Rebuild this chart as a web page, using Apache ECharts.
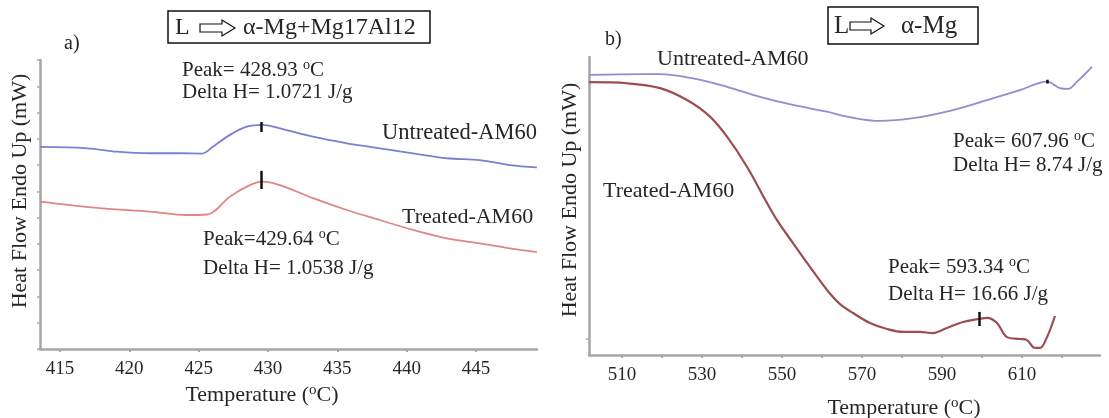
<!DOCTYPE html>
<html><head><meta charset="utf-8">
<script src="https://cdn.jsdelivr.net/npm/echarts@6/dist/echarts.min.js"></script>
<style>html,body{margin:0;padding:0;background:#fff}#c{width:1109px;height:418px}</style>
</head><body><div id="c"></div>
<script>
// ---- Panel a) : 413.5 - 449.4 °C ----
const aTicks = [415, 420, 425, 430, 435, 440, 445];
const aUntreatedT = [413.56, 416.95, 419.11, 421.49, 423.65, 425.24, 426.03, 427.26, 428.48, 429.56, 430.86, 433.24, 435.69, 438.07, 440.45, 442.90, 445.28, 447.44, 449.39];
const aUntreatedV = [7.69, 7.64, 7.51, 7.45, 7.45, 7.44, 7.70, 8.15, 8.46, 8.53, 8.40, 8.08, 7.83, 7.64, 7.45, 7.26, 7.19, 7.00, 6.91];
const aTreatedT = [413.56, 417.88, 421.49, 424.16, 425.60, 427.26, 428.48, 429.56, 430.86, 433.24, 435.69, 438.07, 440.45, 442.90, 445.28, 447.44, 449.39];
const aTreatedV = [5.61, 5.36, 5.23, 5.10, 5.12, 5.80, 6.18, 6.37, 6.24, 5.74, 5.29, 4.91, 4.53, 4.21, 4.02, 3.83, 3.69];
const aPeakT = 429.5;
const aUntreatedMark = [8.26, 8.64];
const aTreatedMark = [6.09, 6.78];

// ---- Panel b) : 501.75 - 629.5 °C ----
const bLabels = [510, 530, 550, 570, 590, 610];
const bTicks = [510, 520, 530, 540, 550, 560, 570, 580, 590, 600, 610, 620];
const bUntreatedT = [501.75, 515.25, 519.5, 527.75, 536.25, 544.5, 552.75, 561.25, 566.25, 574.5, 582.75, 592.75, 601.25, 609.5, 616.25, 619.5, 621.5, 623.75, 627.5];
const bUntreatedV = [10.34, 10.37, 10.37, 10.21, 9.90, 9.53, 9.23, 8.98, 8.80, 8.64, 8.74, 9.04, 9.41, 9.78, 10.09, 9.85, 9.82, 10.09, 10.64];
const bTreatedT = [501.75, 511.25, 519.5, 526.25, 532, 536.25, 541.25, 546.25, 548.75, 552.75, 557, 561.25, 564.5, 567.75, 572, 576.25, 580.25, 584.5, 587.75, 591.25, 595.25, 599.25, 601.25, 603.75, 606.25, 609.5, 611.25, 613.25, 614.5, 616.25, 618.25];
const bTreatedV = [10.07, 10.03, 9.85, 9.41, 8.80, 8.06, 6.95, 5.61, 4.98, 4.13, 3.25, 2.40, 1.88, 1.55, 1.18, 0.96, 0.85, 0.85, 0.81, 1.00, 1.22, 1.33, 1.37, 1.18, 0.66, 0.59, 0.55, 0.26, 0.26, 0.66, 1.44];
const bUntreatedMarkT = 616.25, bUntreatedMark = [10.02, 10.16];
const bTreatedMarkT = 599.25, bTreatedMark = [1.07, 1.59];

const FONT = "'Liberation Serif','Times New Roman',serif";
const TXT = '#262626';
const AXIS = '#a6a6a6';
const zip = (xs, ys) => xs.map((x, i) => [x, ys[i]]);

function tick(t, v) {
  return { symbol: 'none', silent: true, label: { show: false },
    lineStyle: { color: '#111', width: 2.5, type: 'solid' },
    data: [[{ coord: [t, v[0]] }, { coord: [t, v[1]] }]] };
}

function txt(x, y, text, size, align, rotation) {
  return { type: 'text', x: x, y: y, silent: true, rotation: rotation || 0,
    style: { text: text, fill: TXT, fontFamily: FONT, fontSize: size, align: align || 'left', verticalAlign: 'middle',
      rich: { s: { fontFamily: FONT, fontSize: Math.round(size * 0.68), verticalAlign: 'top', lineHeight: size * 0.75, fill: TXT },
              n: { fontFamily: FONT, fontSize: size, lineHeight: size + 2, fill: TXT } } } };
}
function arrow(x0, x1, cy) {
  const h = x1 - 13;
  return { type: 'polygon', silent: true,
    shape: { points: [[x0, cy - 4], [h, cy - 4], [h, cy - 8], [x1, cy], [h, cy + 8], [h, cy + 4], [x0, cy + 4]] },
    style: { fill: '#fff', stroke: '#111', lineWidth: 1.2 } };
}

const chart = echarts.init(document.getElementById('c'), null, { renderer: 'canvas' });
const axisCommon = {
  axisLine: { onZero: false, lineStyle: { color: AXIS, width: 2.5 } },
  splitLine: { show: false }
};
chart.setOption({
  animation: false,
  backgroundColor: '#fff',
  grid: [
    { left: 40, right: 572, top: 60, bottom: 69 },
    { left: 589, right: 9, top: 57, bottom: 63 }
  ],
  xAxis: [
    Object.assign({ type: 'value', gridIndex: 0, min: 413.56, max: 449.4,
      axisTick: { customValues: aTicks, length: 3, lineStyle: { color: AXIS, width: 2 } },
      axisLabel: { customValues: aTicks, fontFamily: FONT, fontSize: 19, color: TXT, margin: 11 } }, axisCommon),
    Object.assign({ type: 'value', gridIndex: 1, min: 501.75, max: 629.5,
      axisTick: { customValues: bTicks, length: 3, lineStyle: { color: AXIS, width: 2 } },
      axisLabel: { customValues: bLabels, fontFamily: FONT, fontSize: 19, color: TXT, margin: 11 } }, axisCommon)
  ],
  yAxis: [
    Object.assign({ type: 'value', gridIndex: 0, min: 0, max: 11, interval: 1,
      axisTick: { show: true, length: 3, lineStyle: { color: AXIS, width: 1.5 } },
      axisLabel: { show: false } }, axisCommon),
    Object.assign({ type: 'value', gridIndex: 1, min: 0, max: 11,
      axisTick: { customValues: [0.6], length: 3, lineStyle: { color: AXIS, width: 1.5 } },
      axisLabel: { show: false } }, axisCommon)
  ],
  series: [
    { type: 'line', xAxisIndex: 0, yAxisIndex: 0, data: zip(aUntreatedT, aUntreatedV), smooth: 0.35, symbol: 'none',
      lineStyle: { color: '#7a7fd2', width: 1.8 }, markLine: tick(aPeakT, aUntreatedMark) },
    { type: 'line', xAxisIndex: 0, yAxisIndex: 0, data: zip(aTreatedT, aTreatedV), smooth: 0.35, symbol: 'none',
      lineStyle: { color: '#e08585', width: 1.8 }, markLine: tick(aPeakT, aTreatedMark) },
    { type: 'line', xAxisIndex: 1, yAxisIndex: 1, data: zip(bUntreatedT, bUntreatedV), smooth: 0.35, symbol: 'none',
      lineStyle: { color: '#8d8fd0', width: 1.8 }, markLine: tick(bUntreatedMarkT, bUntreatedMark) },
    { type: 'line', xAxisIndex: 1, yAxisIndex: 1, data: zip(bTreatedT, bTreatedV), smooth: 0.35, symbol: 'none',
      lineStyle: { color: '#9c4d4f', width: 2.2 }, markLine: tick(bTreatedMarkT, bTreatedMark) }
  ],
  graphic: [
    // panel a
    txt(64, 44, 'a)', 20),
    { type: 'rect', silent: true, shape: { x: 168, y: 11, width: 262, height: 32 }, style: { fill: '#fff', stroke: '#111', lineWidth: 1.5 } },
    txt(175, 28, 'L', 24),
    arrow(200, 235, 28),
    txt(243, 28, 'α-Mg+Mg17Al12', 24),
    txt(182, 70, '{n|Peak= 428.93 }{s|o}{n|C}', 21),
    txt(182, 92, 'Delta H= 1.0721 J/g', 21),
    txt(382, 133, 'Untreated-AM60', 22.5),
    txt(402, 217, 'Treated-AM60', 22),
    txt(203, 239, '{n|Peak=429.64 }{s|o}{n|C}', 21),
    txt(203, 268, 'Delta H= 1.0538 J/g', 21),
    txt(20, 191, 'Heat Flow Endo Up (mW)', 22, 'center', Math.PI / 2),
    txt(262, 395, '{n|Temperature (}{s|o}{n|C)}', 22, 'center'),
    // panel b
    txt(605, 40, 'b)', 20),
    { type: 'rect', silent: true, shape: { x: 828, y: 7, width: 150, height: 37 }, style: { fill: '#fff', stroke: '#111', lineWidth: 1.5 } },
    txt(834, 26, 'L', 25),
    arrow(850, 884, 26),
    txt(901, 26, 'α-Mg', 25),
    txt(657, 59, 'Untreated-AM60', 22),
    txt(603, 191, 'Treated-AM60', 22),
    txt(953, 141, '{n|Peak= 607.96 }{s|o}{n|C}', 21),
    txt(953, 165, 'Delta H= 8.74 J/g', 21),
    txt(888, 267, '{n|Peak= 593.34 }{s|o}{n|C}', 21),
    txt(888, 294, 'Delta H= 16.66 J/g', 21),
    txt(570, 200, 'Heat Flow Endo Up (mW)', 22, 'center', Math.PI / 2),
    txt(904, 408, '{n|Temperature (}{s|o}{n|C)}', 22, 'center')
  ]
});
</script>
</body></html>
